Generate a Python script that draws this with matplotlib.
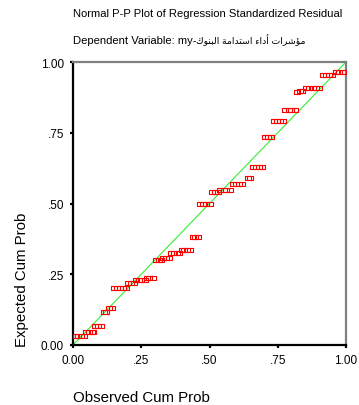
import matplotlib
matplotlib.use("Agg")
import matplotlib.pyplot as plt
import numpy as np

# observed (x) / expected (y) cumulative probabilities
observed = [
    0.010, 0.020, 0.030, 0.040,
    0.048, 0.058, 0.068, 0.075,
    0.082, 0.092, 0.102,
    0.113, 0.122,
    0.133, 0.142,
    0.152, 0.163, 0.173, 0.184, 0.195,
    0.203, 0.213, 0.222,
    0.230, 0.240, 0.250, 0.262,
    0.270, 0.280, 0.292,
    0.305, 0.315, 0.322,
    0.330, 0.340, 0.352,
    0.360, 0.370, 0.380, 0.390,
    0.398, 0.408, 0.418, 0.428,
    0.438, 0.448, 0.458,
    0.467, 0.477, 0.488, 0.500,
    0.510, 0.520, 0.532,
    0.540, 0.552, 0.562, 0.575,
    0.585, 0.596, 0.607, 0.618,
    0.640, 0.650,
    0.660, 0.670, 0.680, 0.692,
    0.705, 0.715, 0.725,
    0.738, 0.748, 0.758, 0.768,
    0.778, 0.790, 0.800, 0.812,
    0.822, 0.832, 0.840,
    0.855, 0.866, 0.878, 0.890, 0.900,
    0.915, 0.926, 0.937, 0.950,
    0.965, 0.976, 0.988,
]
expected = [
    0.032, 0.032, 0.032, 0.032,
    0.047, 0.047, 0.047, 0.047,
    0.066, 0.066, 0.066,
    0.118, 0.118,
    0.130, 0.130,
    0.203, 0.203, 0.203, 0.203, 0.203,
    0.219, 0.219, 0.219,
    0.231, 0.231, 0.231, 0.231,
    0.236, 0.236, 0.236,
    0.300, 0.300, 0.300,
    0.306, 0.306, 0.306,
    0.324, 0.324, 0.324, 0.324,
    0.337, 0.337, 0.337, 0.337,
    0.380, 0.380, 0.380,
    0.498, 0.498, 0.498, 0.498,
    0.542, 0.542, 0.542,
    0.548, 0.548, 0.548, 0.548,
    0.568, 0.568, 0.568, 0.568,
    0.590, 0.590,
    0.628, 0.628, 0.628, 0.628,
    0.736, 0.736, 0.736,
    0.793, 0.793, 0.793, 0.793,
    0.831, 0.831, 0.831, 0.831,
    0.893, 0.896, 0.899,
    0.907, 0.907, 0.907, 0.907, 0.907,
    0.955, 0.955, 0.955, 0.955,
    0.966, 0.966, 0.966,
]

ticks = [0.0, 0.25, 0.5, 0.75, 1.0]
tick_labels = ["0.00", ".25", ".50", ".75", "1.00"]

title = "Normal P-P Plot of Regression Standardized Residual"
subtitle_latin = "Dependent Variable: my-"
# Arabic part written in presentation forms, visual order (no shaping engine in mpl)
arabic_words = [
    "\uFED9\uFEEE\uFEE8\uFE92\uFEDF\uFE8D",            # البنوك
    "\uFE94\uFEE3\uFE8D\uFEAA\uFE98\uFEB3\uFE8D",      # استدامة
    "\uFE80\uFE8D\uFEA9\uFE83",                        # أداء
    "\uFE95\uFE8D\uFEAE\uFEB7\uFE86\uFEE3",            # مؤشرات
]
subtitle_arabic = " ".join(arabic_words)

plt.rcParams["font.family"] = ["Liberation Sans", "DejaVu Sans"]

W, H = 359, 406
fig = plt.figure(figsize=(W / 100, H / 100), dpi=100)
ax = fig.add_axes([73 / W, 1 - 346 / H, 273 / W, 283 / H])

ax.plot([0, 1], [0, 1], color="#33ee33", lw=0.8, zorder=2)

rect = [(-1, -0.7), (1, -0.7), (1, 0.7), (-1, 0.7), (-1, -0.7)]
ax.plot(observed, expected, ls="none", marker=rect, ms=4.2,
        mfc="none", mec="#ff0000", mew=0.8, zorder=3)

ax.set_xlim(0, 1)
ax.set_ylim(0, 1)
ax.set_xticks(ticks)
ax.set_xticklabels(tick_labels)
ax.set_yticks(ticks)
ax.set_yticklabels(tick_labels)
ax.tick_params(direction="out", length=2.5, width=1.6, color="black",
               labelsize=8.5, pad=4)

for side in ["left", "bottom"]:
    ax.spines[side].set_color("black")
    ax.spines[side].set_linewidth(1.6)
for side in ["top", "right"]:
    ax.spines[side].set_color("#808080")
    ax.spines[side].set_linewidth(1.6)

fig.text(73 / W, 1 - 14 / H, title, fontsize=8.1, ha="left", va="center")
latin = fig.text(73 / W, 1 - 41 / H, subtitle_latin, fontsize=8.1,
                 ha="left", va="center")
renderer = fig.canvas.get_renderer()
bb = latin.get_window_extent(renderer)
fig.text(bb.x1 / W, 1 - 40 / H, subtitle_arabic, fontsize=6.7,
         ha="left", va="center")
fig.text(73 / W, 1 - 398 / H, "Observed Cum Prob", fontsize=10.8,
         ha="left", va="center")
fig.text(22 / W, 1 - 347 / H, "Expected Cum Prob", fontsize=10.8,
         rotation=90, ha="center", va="bottom")

fig.savefig("out.png", dpi=100)
